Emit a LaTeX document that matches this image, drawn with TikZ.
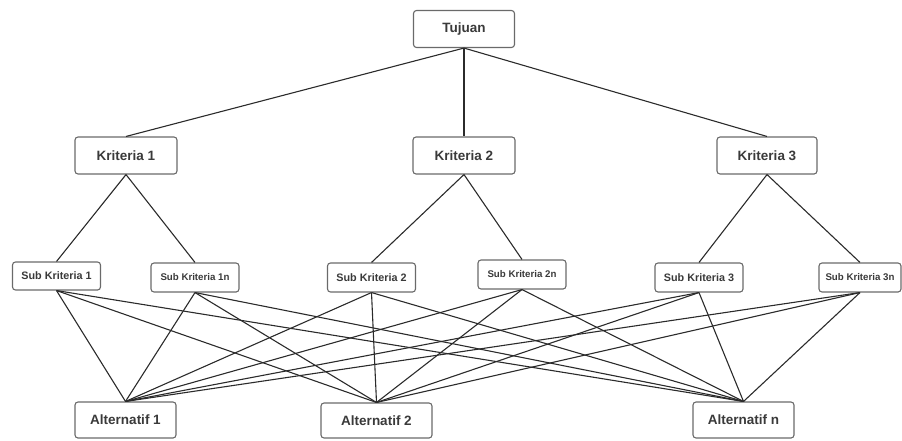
\documentclass[tikz,border=0pt]{standalone}
\usepackage{fontspec}
\setmainfont{Liberation Sans}
\definecolor{txt}{HTML}{3A3A3A}
\definecolor{edge}{HTML}{6A6A6A}
\definecolor{ln}{HTML}{2B2B2B}
\tikzset{
  box/.style={draw=edge, line width=1.1pt, rounded corners=3pt, fill=white, inner sep=0pt, text=txt, font=\bfseries},
  big/.style={box, minimum height=37pt, font=\fontsize{13.5}{16}\selectfont\bfseries},
  sub/.style={box, minimum height=29pt, minimum width=88pt, font=\fontsize{10.8}{13}\selectfont\bfseries},
  subn/.style={box, minimum height=29pt, minimum width=88pt, font=\fontsize{9.7}{12}\selectfont\bfseries},
  conn/.style={draw=ln, line width=1.1pt}
}
\begin{document}
\begin{tikzpicture}[x=1pt,y=-1pt]
\useasboundingbox (0,0) rectangle (902,440);
\node[big, minimum width=101pt] (tujuan) at (464,29) {Tujuan};
\node[big, minimum width=102pt] (k1) at (126,155.5) {Kriteria 1};
\node[big, minimum width=102pt] (k2) at (464,155.5) {Kriteria 2};
\node[big, minimum width=100pt] (k3) at (767,155.5) {Kriteria 3};
\node[sub, minimum height=28pt] (s1) at (56.5,276) {Sub Kriteria 1};
\node[subn] (s1n) at (195,277.5) {Sub Kriteria 1n};
\node[sub] (s2) at (371.5,277.5) {Sub Kriteria 2};
\node[subn] (s2n) at (522,274.5) {Sub Kriteria 2n};
\node[sub] (s3) at (699,277.5) {Sub Kriteria 3};
\node[subn, minimum width=82pt] (s3n) at (860,277.5) {Sub Kriteria 3n};
\node[big, minimum width=101pt, minimum height=36pt] (a1) at (125.5,420) {Alternatif 1};
\node[big, minimum width=111pt, minimum height=35pt] (a2) at (376.5,420.5) {Alternatif 2};
\node[big, minimum width=101pt, minimum height=36pt] (an) at (743.5,420) {Alternatif n};
\begin{scope}[on background layer/.style={}]
\foreach \k in {k1,k2,k3} \draw[conn] (tujuan.south) -- (\k.north);
\draw[conn] (k1.south) -- (s1.north);
\draw[conn] (k1.south) -- (s1n.north);
\draw[conn] (k2.south) -- (s2.north);
\draw[conn] (k2.south) -- (s2n.north);
\draw[conn] (k3.south) -- (s3.north);
\draw[conn] (k3.south) -- (s3n.north);
\foreach \s in {s1,s1n,s2,s2n,s3,s3n}
  \foreach \a in {a1,a2,an}
    \draw[conn] (\s.south) -- (\a.north);
\end{scope}
\end{tikzpicture}
\end{document}
